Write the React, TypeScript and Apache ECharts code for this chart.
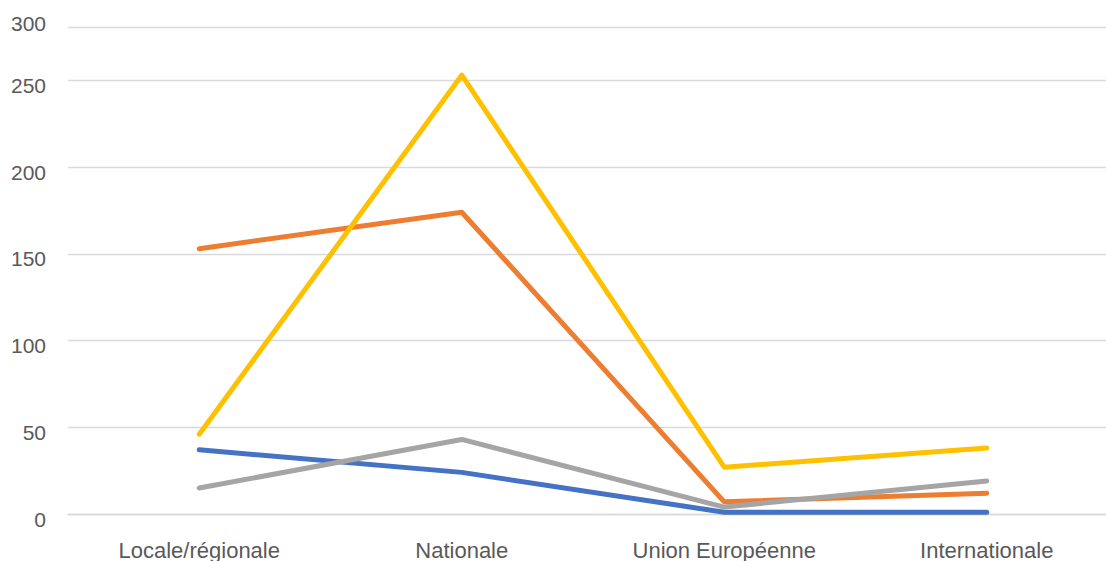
import React, { useEffect, useRef } from "react";
import * as echarts from "echarts";

const categories = ["Locale/régionale", "Nationale", "Union Européenne", "Internationale"];
const seriesNames = ["Série 1", "Série 2", "Série 3", "Série 4"];
const serie1 = [37, 24, 1, 1];
const serie2 = [153, 174, 7, 12];
const serie3 = [15, 43, 4, 19];
const serie4 = [46, 253, 27, 38];
const colors = ["#4472C4", "#ED7D31", "#A5A5A5", "#FFC000"];
const topTickLabel = "300";

export default function App() {
  const ref = useRef<HTMLDivElement>(null);
  useEffect(() => {
    if (!ref.current) return;
    const chart = echarts.init(ref.current, null, { renderer: "svg" });
    const data = [serie1, serie2, serie3, serie4];
    chart.setOption({
      animation: false,
      grid: { left: 68, right: 12, top: 27.7, bottom: 47, containLabel: false },
      xAxis: {
        type: "category",
        data: categories,
        boundaryGap: true,
        axisLine: { show: true, lineStyle: { color: "#D9D9D9", width: 1.3 } },
        axisTick: { show: false },
        axisLabel: {
          color: "#595959",
          fontFamily: "Liberation Sans",
          fontSize: 22,
          margin: 25,
        },
      },
      yAxis: {
        type: "value",
        min: 0,
        max: 280.4,
        interval: 50,
        axisLine: { show: false },
        axisTick: { show: false },
        splitLine: { lineStyle: { color: "#D9D9D9", width: 1.3 } },
        axisLabel: {
          color: "#595959",
          fontFamily: "Liberation Sans",
          fontSize: 21,
          margin: 22,
          formatter: (v: number) => (v > 260 ? "{t|" + topTickLabel + "}" : "{n|" + v + "}"),
          rich: {
            n: { color: "#595959", fontFamily: "Liberation Sans", fontSize: 21, padding: [10, 0, 0, 0] },
            t: { color: "#595959", fontFamily: "Liberation Sans", fontSize: 21, padding: [0, 0, 9, 0] },
          },
        },
      },
      series: data.map((d, i) => ({
        name: seriesNames[i],
        type: "line",
        data: d,
        symbol: "none",
        lineStyle: { color: colors[i], width: 5, cap: "round", join: "round" },
        itemStyle: { color: colors[i] },
      })),
    });
    return () => chart.dispose();
  }, []);
  return (
    <div style={{ position: "absolute", left: 0, top: 0, width: 1106, height: 561, overflow: "hidden", background: "#fff" }}>
      <div ref={ref} style={{ width: 1130, height: 561 }} />
    </div>
  );
}
